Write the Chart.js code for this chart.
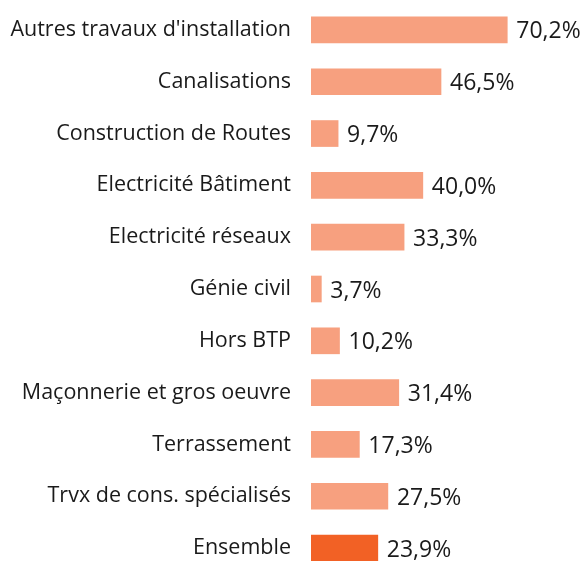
<!DOCTYPE html>
<html>
<head>
<meta charset="utf-8">
<script src="https://cdn.jsdelivr.net/npm/chart.js@4.4.1/dist/chart.umd.min.js"></script>
<style>
html,body{margin:0;padding:0;background:#fff;overflow:hidden;}
#wrap{position:relative;width:586px;height:575px;}
</style>
</head>
<body>
<div id="wrap"><canvas id="c"></canvas></div>
<script>
const categories = ["Autres travaux d'installation","Canalisations","Construction de Routes","Electricité Bâtiment","Electricité réseaux","Génie civil","Hors BTP","Maçonnerie et gros oeuvre","Terrassement","Trvx de cons. spécialisés","Ensemble"];
const values = [70.2,46.5,9.7,40.0,33.3,3.7,10.2,31.4,17.3,27.5,23.9];
const barColors = ["#F7A07F","#F7A07F","#F7A07F","#F7A07F","#F7A07F","#F7A07F","#F7A07F","#F7A07F","#F7A07F","#F7A07F","#F26125"];

const valueLabels = {
  id:'valueLabels',
  afterDatasetsDraw(chart){
    const ctx = chart.ctx;
    const meta = chart.getDatasetMeta(0);
    ctx.save();
    ctx.font = '23px "Open Sans"';
    ctx.fillStyle = '#1a1a1a';
    ctx.textAlign = 'left';
    ctx.textBaseline = 'middle';
    meta.data.forEach((bar,i)=>{
      const txt = values[i].toFixed(1).replace('.',',') + '%';
      ctx.fillText(txt, bar.x + 9, bar.y + 2);
    });
    ctx.restore();
  }
};

new Chart(document.getElementById('c'), {
  type:'bar',
  data:{labels:categories, datasets:[{data:values, backgroundColor:barColors, barThickness:26, borderWidth:0}]},
  options:{
    indexAxis:'y',
    responsive:true,
    maintainAspectRatio:false,
    animation:false,
    layout:{padding:{top:4,bottom:1,left:0,right:1}},
    plugins:{legend:{display:false},tooltip:{enabled:false}},
    scales:{
      x:{min:0,max:98,display:false},
      y:{
        grid:{display:false},
        border:{display:false},
        afterFit(scale){scale.width = 311; scale.paddingTop = 0; scale.paddingBottom = 0;},
        ticks:{padding:12,color:'#1a1a1a',font:{family:'"Open Sans"',size:21.5}}
      }
    }
  },
  plugins:[valueLabels]
});
</script>
</body>
</html>
